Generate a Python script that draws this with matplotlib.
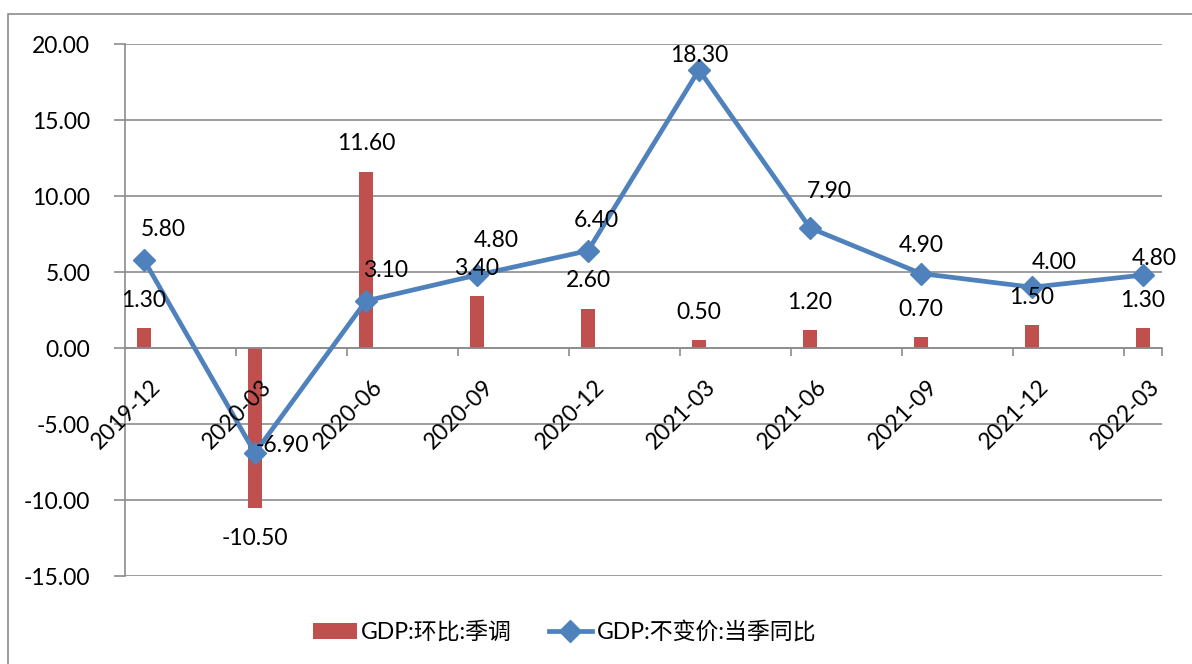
import matplotlib
matplotlib.use("Agg")
import matplotlib.pyplot as plt
from matplotlib.patches import Rectangle

plt.rcParams['font.family'] = ['Lato', 'Noto Sans CJK SC', 'DejaVu Sans']

# data
quarters = ["2019-12", "2020-03", "2020-06", "2020-09", "2020-12",
            "2021-03", "2021-06", "2021-09", "2021-12", "2022-03"]
qoq_sa = [1.3, -10.5, 11.6, 3.4, 2.6, 0.5, 1.2, 0.7, 1.5, 1.3]
yoy_const = [5.8, -6.9, 3.1, 4.8, 6.4, 18.3, 7.9, 4.9, 4.0, 4.8]
bar_name = "GDP:环比:季调"
line_name = "GDP:不变价:当季同比"

# label offsets for the line values (points), as placed in the original
line_label_offsets = [(14, 22), (20, 5), (14, 22), (14, 25), (6, 22),
                      (0, 10), (14, 26), (0, 20), (16, 18), (8, 12)]

red = "#C0504D"
blue = "#4F81BD"
grid_c = "#8C8C8C"
fs = 16.5

fig = plt.figure(figsize=(11.92, 6.64), dpi=100)
ax = fig.add_axes([0.1049, 0.1325, 0.8699, 0.8012])

x = list(range(len(quarters)))
bars = ax.bar(x, qoq_sa, width=0.13, color=red, zorder=2, label=bar_name)
line, = ax.plot(x, yoy_const, color=blue, lw=3.4, marker="D", markersize=11,
                zorder=3, label=line_name)

for xi, v in zip(x, qoq_sa):
    off = 20 if v >= 0 else -22
    ax.annotate(f"{v:.2f}", (xi, v), xytext=(0, off), textcoords="offset points",
                ha="center", va="center", fontsize=fs, zorder=4)
for xi, v, (dx, dy) in zip(x, yoy_const, line_label_offsets):
    ax.annotate(f"{v:.2f}", (xi, v), xytext=(dx, dy), textcoords="offset points",
                ha="center", va="center", fontsize=fs, zorder=4)

# category labels sit on the zero line, drawn above the bars
for xi, q in zip(x, quarters):
    ax.annotate(q, (xi, 0), xytext=(4, -20), textcoords="offset points",
                rotation=45, ha="right", va="top", rotation_mode="anchor",
                fontsize=fs, zorder=5)

ax.set_xlim(-0.17, 9.17)
ax.set_ylim(-15, 20)
ax.set_yticks(range(-15, 21, 5))
ax.set_yticklabels([f"{t:.2f}" for t in range(-15, 21, 5)], fontsize=fs)
ax.yaxis.grid(True, color=grid_c, lw=1.2, zorder=0)
ax.tick_params(axis="y", length=8, color=grid_c, width=1.2, pad=17)

ax.spines["bottom"].set_position(("data", 0))
ax.spines["top"].set_visible(False)
ax.spines["right"].set_visible(False)
ax.spines["left"].set_color(grid_c)
ax.spines["bottom"].set_color(grid_c)
ax.spines["left"].set_linewidth(1.2)
ax.spines["bottom"].set_linewidth(1.2)

ax.set_xticks([xi - 0.17 for xi in x[1:]] + [9.17])
ax.set_xticklabels([])
ax.tick_params(axis="x", length=6, color=grid_c, width=1.2)

ax.legend(handles=[bars, line], labels=[bar_name, line_name],
          loc="center", bbox_to_anchor=(0.424, -0.105), ncol=2, frameon=False,
          fontsize=fs, handlelength=1.9, columnspacing=1.6, handletextpad=0.2)

fig.patches.append(Rectangle((8 / 1192, -0.1), 1.2, 1.1 - 14 / 664,
                             transform=fig.transFigure, fill=False,
                             edgecolor="#8C8C8C", lw=1.2))

fig.savefig("out.png", dpi=100)
